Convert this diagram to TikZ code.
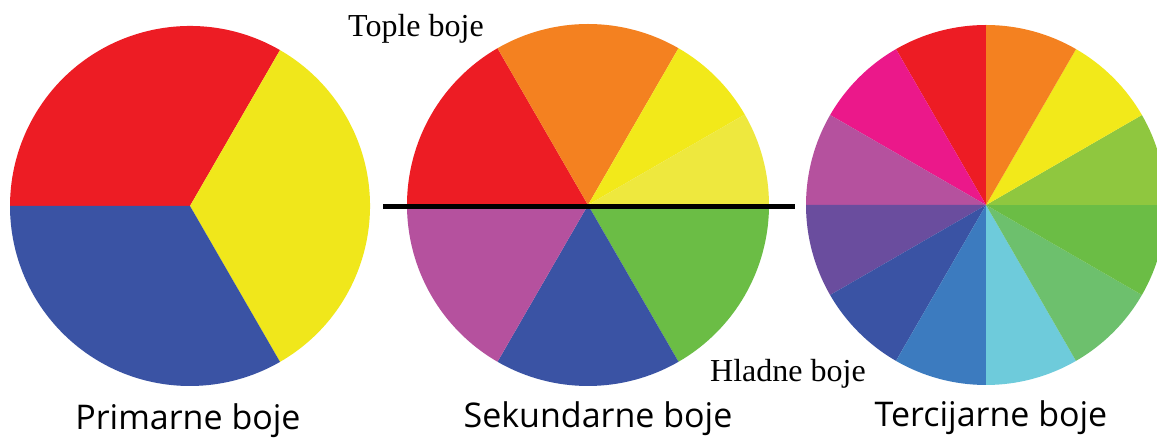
\documentclass[tikz,border=0pt]{standalone}
\usepackage{fontspec}
\setmainfont{Liberation Serif}
\newfontfamily\labelfont{Open Sans}
\definecolor{cRed}{HTML}{ED1C24}
\definecolor{cYellowP}{HTML}{F0E71B}
\definecolor{cBlue}{HTML}{3A53A4}
\definecolor{cOrange}{HTML}{F48120}
\definecolor{cYellowA}{HTML}{F2E91A}
\definecolor{cYellowB}{HTML}{EEE83E}
\definecolor{cGreen}{HTML}{6BBD45}
\definecolor{cPurpleS}{HTML}{B5519E}
\definecolor{cMagenta}{HTML}{EB188A}
\definecolor{cViolet}{HTML}{6A4D9E}
\definecolor{cMidBlue}{HTML}{3C7BBF}
\definecolor{cCyan}{HTML}{6ECBDB}
\definecolor{cLightGreen}{HTML}{6DC06D}
\definecolor{cYellowGreen}{HTML}{8FC73F}
\newcommand{\pieslice}[5]{\fill[#5] (#1) -- ++(#3:#2) arc[start angle=#3, end angle=#4, radius=#2] -- cycle;}
\tikzset{
  toptext/.style={font=\fontsize{32}{37}\selectfont, inner sep=0pt, anchor=base west},
  caption/.style={font=\labelfont\fontsize{34}{40}\selectfont, inner sep=0pt, anchor=base},
  divider/.style={line width=5pt, black}
}
\begin{document}
\begin{tikzpicture}[x=1pt,y=1pt]
\clip (0,0) rectangle (1157,441);
\fill[white] (0,0) rectangle (1157,441);
\coordinate (L) at (190,235);
\coordinate (M) at (588,236);
\coordinate (R) at (986,236);
% primary
\pieslice{L}{180}{60}{180}{cRed}
\pieslice{L}{180}{-60}{60}{cYellowP}
\pieslice{L}{180}{180}{300}{cBlue}
% secondary
\pieslice{M}{181}{120}{180}{cRed}
\pieslice{M}{181}{60}{120}{cOrange}
\pieslice{M}{181}{30}{60}{cYellowA}
\pieslice{M}{181}{0}{30}{cYellowB}
\pieslice{M}{181}{-60}{0}{cGreen}
\pieslice{M}{181}{-120}{-60}{cBlue}
\pieslice{M}{181}{180}{240}{cPurpleS}
% tertiary
\pieslice{R}{180}{90}{120}{cRed}
\pieslice{R}{180}{120}{150}{cMagenta}
\pieslice{R}{180}{150}{180}{cPurpleS}
\pieslice{R}{180}{180}{210}{cViolet}
\pieslice{R}{180}{210}{240}{cBlue}
\pieslice{R}{180}{240}{270}{cMidBlue}
\pieslice{R}{180}{270}{300}{cCyan}
\pieslice{R}{180}{300}{330}{cLightGreen}
\pieslice{R}{180}{330}{360}{cGreen}
\pieslice{R}{180}{0}{30}{cYellowGreen}
\pieslice{R}{180}{30}{60}{cYellowA}
\pieslice{R}{180}{60}{90}{cOrange}
% divider
\coordinate (lineA) at (383,234);
\coordinate (lineB) at (795,234);
\draw[divider] (lineA) -- (lineB);
% texts
\node[toptext] (warm) at (348,404) {Tople boje};
\node[toptext] (cold) at (710,59) {Hladne boje};
\node[caption] (prim) at (188,11) {Primarne boje};
\node[caption] (sec) at (598,13) {Sekundarne boje};
\node[caption] (ter) at (991,14) {Tercijarne boje};
\end{tikzpicture}
\end{document}
